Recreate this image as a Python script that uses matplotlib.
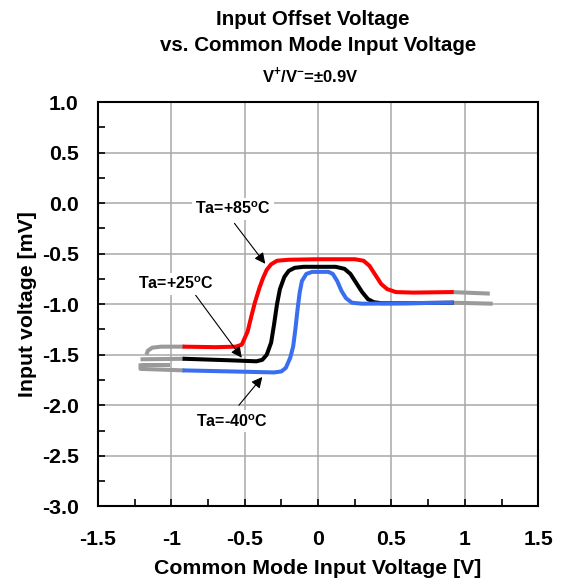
import matplotlib
matplotlib.use("Agg")
import matplotlib.pyplot as plt
from matplotlib.ticker import MultipleLocator, FormatStrFormatter

plt.rcParams['font.family'] = ['Liberation Sans', 'DejaVu Sans']
plt.rcParams['mathtext.fontset'] = 'custom'
plt.rcParams['mathtext.rm'] = 'Liberation Sans'
plt.rcParams['mathtext.bf'] = 'Liberation Sans:bold'

# Ta=+85C
x_85 = [-0.91, -0.70, -0.56, -0.52, -0.48, -0.455, -0.43, -0.40, -0.375, -0.35, -0.32, -0.28,
        -0.20, 0.0, 0.25, 0.31, 0.35, 0.39, 0.43, 0.47, 0.53, 0.65, 0.91]
y_85 = [-1.42, -1.425, -1.42, -1.40, -1.27, -1.12, -0.98, -0.84, -0.74, -0.66, -0.605, -0.57,
        -0.56, -0.555, -0.555, -0.57, -0.62, -0.71, -0.80, -0.85, -0.88, -0.885, -0.88]

# Ta=+25C
x_25 = [-0.91, -0.60, -0.42, -0.38, -0.35, -0.32, -0.30, -0.28, -0.26, -0.23, -0.20, -0.16,
        -0.10, 0.12, 0.18, 0.22, 0.26, 0.30, 0.34, 0.38, 0.43, 0.60, 0.91]
y_25 = [-1.54, -1.555, -1.565, -1.55, -1.50, -1.38, -1.20, -1.00, -0.85, -0.73, -0.67, -0.64,
        -0.63, -0.63, -0.65, -0.70, -0.79, -0.88, -0.95, -0.98, -0.99, -0.99, -0.985]

# Ta=-40C
x_m40 = [-0.91, -0.60, -0.30, -0.25, -0.22, -0.19, -0.17, -0.155, -0.14, -0.125, -0.11, -0.08,
         -0.04, 0.07, 0.10, 0.13, 0.16, 0.19, 0.23, 0.30, 0.60, 0.91]
y_m40 = [-1.655, -1.665, -1.675, -1.665, -1.63, -1.53, -1.42, -1.25, -1.05, -0.88, -0.77, -0.70,
         -0.68, -0.68, -0.70, -0.77, -0.87, -0.94, -0.985, -0.995, -0.99, -0.985]

# gray extensions outside the +-0.9V range
gray_segments = [
    ([-1.17, -1.16, -1.13, -1.07, -0.91], [-1.50, -1.46, -1.43, -1.42, -1.42]),
    ([-1.21, -0.91], [-1.545, -1.54]),
    ([-1.21, -1.01], [-1.60, -1.60]),
    ([-1.21, -1.21, -0.91], [-1.585, -1.64, -1.655]),
    ([0.91, 1.17], [-0.88, -0.895]),
    ([0.91, 1.19], [-0.985, -0.995]),
]

fig = plt.figure(figsize=(5.63, 5.80), dpi=100)
ax = fig.add_axes([0.174, 0.127, 0.782, 0.697])

lw = 2.9
for gx, gy in gray_segments:
    ax.plot(gx, gy, color='#9a9a9a', lw=lw, solid_capstyle='butt', zorder=2)
ax.plot(x_85, y_85, color='#ff0000', lw=lw, solid_joinstyle='round', zorder=3)
ax.plot(x_25, y_25, color='black', lw=lw, solid_joinstyle='round', zorder=3)
ax.plot(x_m40, y_m40, color='#3a6ef0', lw=lw, solid_joinstyle='round', zorder=3)

ax.set_xlim(-1.5, 1.5)
ax.set_ylim(-3.0, 1.0)
ax.xaxis.set_major_locator(MultipleLocator(0.5))
ax.xaxis.set_minor_locator(MultipleLocator(0.25))
ax.yaxis.set_major_locator(MultipleLocator(0.5))
ax.yaxis.set_minor_locator(MultipleLocator(0.25))
ax.yaxis.set_major_formatter(FormatStrFormatter('%.1f'))
ax.xaxis.set_major_formatter(FormatStrFormatter('%g'))
ax.grid(True, which='major', color='#a8a8a8', lw=1.1, zorder=0)
ax.tick_params(which='both', direction='in', length=5, width=1.2, labelsize=15.3)
ax.tick_params(axis='x', which='major', pad=17)
ax.tick_params(axis='y', which='major', pad=14)
for lab in ax.get_xticklabels() + ax.get_yticklabels():
    lab.set_fontweight('bold')
for s in ax.spines.values():
    s.set_linewidth(1.5)

ax.set_xlabel('Common Mode Input Voltage [V]', fontsize=15.3, fontweight='bold')
ax.set_ylabel('Input voltage [mV]', fontsize=15.3, fontweight='bold')
ax.xaxis.label.set_va('center')
ax.yaxis.label.set_va('center')
ax.xaxis.set_label_coords(0.5, -0.153)
ax.yaxis.set_label_coords(-0.16, 0.5)

fig.text(313 / 563, 0.967, 'Input Offset Voltage', ha='center', va='center',
         fontsize=14.8, fontweight='bold')
fig.text(318 / 563, 0.921, 'vs. Common Mode Input Voltage', ha='center', va='center',
         fontsize=14.8, fontweight='bold')
fig.text(310 / 563, 0.871, r'V$^{\mathbf{+}}$/V$^{\mathbf{-}}$=±0.9V', ha='center', va='center',
         fontsize=12, fontweight='bold')

arrow = dict(arrowstyle='-|>', color='black', lw=0.8, mutation_scale=16, shrinkA=0, shrinkB=0)
box = dict(facecolor='white', edgecolor='none', pad=2)
ax.annotate('', xy=(-0.36, -0.60), xytext=(-0.57, -0.20), arrowprops=arrow, zorder=4)
ax.annotate('', xy=(-0.52, -1.53), xytext=(-0.84, -0.90), arrowprops=arrow, zorder=4)
ax.annotate('', xy=(-0.38, -1.72), xytext=(-0.54, -2.00), arrowprops=arrow, zorder=4)
ax.text(-0.58, -0.055, r'Ta=+85$^{\mathbf{o}}$C', ha='center', va='center', fontsize=11.5,
        fontweight='bold', bbox=box, zorder=5)
ax.text(-0.97, -0.80, r'Ta=+25$^{\mathbf{o}}$C', ha='center', va='center', fontsize=11.5,
        fontweight='bold', bbox=box, zorder=5)
ax.text(-0.59, -2.16, r'Ta=-40$^{\mathbf{o}}$C', ha='center', va='center', fontsize=11.5,
        fontweight='bold', bbox=box, zorder=5)

fig.savefig('out.png', dpi=100)
